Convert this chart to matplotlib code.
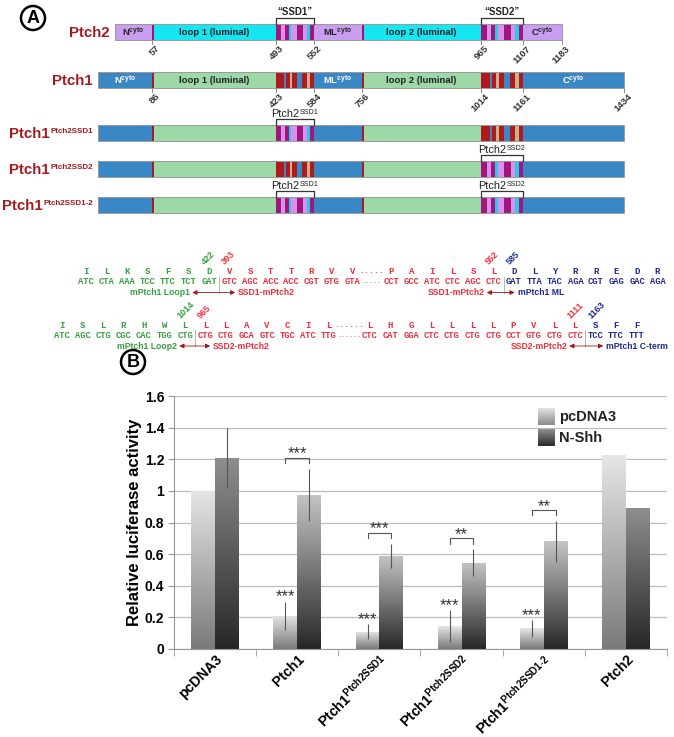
"""Ptch1/Ptch2 chimera schematic (A) and Gli-luciferase reporter activity (B)."""

import numpy as np
import matplotlib
matplotlib.use("Agg")
import matplotlib.pyplot as plt
import matplotlib.transforms as mtransforms
from matplotlib.patches import Rectangle, Circle
from matplotlib.colors import LinearSegmentedColormap

plt.rcParams["font.family"] = ["Liberation Sans", "DejaVu Sans"]
plt.rcParams["mathtext.fontset"] = "custom"
plt.rcParams["mathtext.rm"] = "Liberation Sans"
plt.rcParams["mathtext.it"] = "Liberation Sans:italic"
plt.rcParams["mathtext.bf"] = "Liberation Sans:bold"

# ---------------- panel B data ----------------
GROUPS = ["pcDNA3", "Ptch1",
          r"Ptch1$^{\mathbf{Ptch2SSD1}}$",
          r"Ptch1$^{\mathbf{Ptch2SSD2}}$",
          r"Ptch1$^{\mathbf{Ptch2SSD1}\text{-}\mathbf{2}}$",
          "Ptch2"]
SERIES = ["pcDNA3", "N-Shh"]
PCDNA3 = [1.00, 0.21, 0.11, 0.145, 0.13, 1.225]
PCDNA3_ERR = [0.0, 0.09, 0.045, 0.10, 0.055, 0.0]
NSHH = [1.21, 0.975, 0.59, 0.545, 0.68, 0.89]
NSHH_ERR = [0.19, 0.165, 0.075, 0.085, 0.13, 0.0]
STARS_VS_CTRL = ["", "***", "***", "***", "***", ""]
STARS_PAIR = ["", "***", "***", "**", "**", ""]
Y_TICKS = [0, 0.2, 0.4, 0.6, 0.8, 1.0, 1.2, 1.4, 1.6]

# ---------------- panel A data ----------------
CONSTRUCT_MAIN = ["Ptch2", "Ptch1", "Ptch1", "Ptch1", "Ptch1"]
CONSTRUCT_SUP = ["", "", "Ptch2SSD1", "Ptch2SSD2", "Ptch2SSD1-2"]
SSD_ORIGIN = [("p2", "p2"), ("p1", "p1"), ("p2", "p1"), ("p1", "p2"), ("p2", "p2")]
DOMAIN_NAMES = [r"N$^{\mathbf{cyto}}$", "loop 1 (luminal)", r"ML$^{\mathbf{cyto}}$",
                "loop 2 (luminal)", r"C$^{\mathbf{cyto}}$"]
PTCH2_RESIDUES = ["57", "493", "552", "965", "1107", "1183"]
PTCH1_RESIDUES = ["86", "423", "584", "756", "1014", "1161", "1434"]
SSD_TAGS = ["\u201cSSD1\u201d", "\u201cSSD2\u201d"]
SWAP_MAIN = "Ptch2"
SWAP_SUP = ["SSD1", "SSD2"]

# sequence junctions
SEQ1_AA_A = "I L K S F S D V S T T R V V".split()
SEQ1_NT_A = "ATC CTA AAA TCC TTC TCT GAT GTC AGC ACC ACC CGT GTG GTA".split()
SEQ1_COL_A = "gggggggrrrrrrr"
SEQ1_AA_B = "P A I L S L D L Y R R E D R".split()
SEQ1_NT_B = "CCT GCC ATC CTC AGC CTC GAT TTA TAC AGA CGT GAG GAC AGA".split()
SEQ1_COL_B = "rrrrrrbbbbbbbb"
SEQ2_AA_A = "I S L R H W L L L A V C I L".split()
SEQ2_NT_A = "ATC AGC CTG CGC CAC TGG CTG CTG CTG GCA GTC TGC ATC TTG".split()
SEQ2_COL_A = "gggggggrrrrrrr"
SEQ2_AA_B = "L H G L L L L P V L L S F F".split()
SEQ2_NT_B = "CTC CAT GGA CTC CTG CTG CTG CCT GTG CTG CTC TCC TTC TTT".split()
SEQ2_COL_B = "rrrrrrrrrrrbbb"
# (line, segment, first codon of new part, left no., right no., colours, left label, right label)
JUNCTIONS = [
    (0, 0, 7, "422", "393", "g", "r", "mPtch1 Loop1", "SSD1-mPtch2"),
    (0, 1, 6, "552", "585", "r", "b", "SSD1-mPtch2", "mPtch1 ML"),
    (1, 0, 7, "1014", "965", "g", "r", "mPtch1 Loop2", "SSD2-mPtch2"),
    (1, 1, 11, "1111", "1163", "r", "b", "SSD2-mPtch2", "mPtch1 C-term"),
]

# ---------------- layout / style ----------------
W_PX, H_PX = 674, 737
DARK_RED = "#a3191c"
SEQ_COL = {"g": "#35a040", "r": "#ec2f3b", "b": "#1f2a8c"}
PALETTE = {
    "p1": {"cyto": "#3a87c6", "loop": "#9cd9a6", "sep": "#a81c20"},
    "p2": {"cyto": "#c99ef0", "loop": "#14e6f2", "sep": "#9c1678"},
}
STRIPE_COLORS = {
    "p1": {"a": "#b01a1f", "b": "#3a87c6", "c": "#c9b287"},
    "p2": {"a": "#a0167a", "b": "#dc90ee", "c": "#22cde6"},
}
STRIPES = {
    "p1": [("a", 8), ("b", 2), ("a", 4), ("c", 2), ("a", 5), ("b", 5), ("a", 5), ("c", 3), ("a", 4)],
    "p2": [("a", 5), ("b", 4), ("a", 4), ("c", 2), ("b", 6), ("a", 6), ("b", 4), ("c", 3), ("a", 4)],
}
ROW_Y = [24, 72, 125, 161, 197]
ROW_H = 16
ROW_X0 = [115, 98, 98, 98, 98]
ROW_X1 = [562, 624, 624, 624, 624]
BOUND_X = [152, 276, 314, 362, 481, 523]
CODON_W = 20.5
SEQ_Y = [(271, 281.5, 292.5), (325, 335, 346)]
SEG_X0 = [(86, 391), (62, 370)]
ARROW_LEFT = [27, 17, 16, 16]
ARROW_RIGHT = [16, 11, 15, 18]

fig = plt.figure(figsize=(W_PX / 100, H_PX / 100), dpi=100)
canvas = fig.add_axes([0, 0, 1, 1])
canvas.set_xlim(0, W_PX)
canvas.set_ylim(H_PX, 0)
canvas.axis("off")
RENDERER = fig.canvas.get_renderer()


def sup_text(x, y, main, sup, size, sup_size, ha="right", rise=5, **kw):
    """Main text with a small raised suffix; y is the baseline (canvas pixels)."""
    t_main = canvas.text(0, y, main, ha="left", va="baseline", fontsize=size, **kw)
    t_sup = canvas.text(0, y - rise, sup, ha="left", va="baseline", fontsize=sup_size, **kw)
    w_main = t_main.get_window_extent(RENDERER).width
    w_sup = t_sup.get_window_extent(RENDERER).width if sup else 0
    total = w_main + w_sup + 0.5
    left = x - total if ha == "right" else x - total / 2
    t_main.set_x(left)
    t_sup.set_x(left + w_main + 0.5)


def circled(x, y, letter):
    canvas.add_patch(Circle((x, y), 12, fill=False, lw=1.8, color="black"))
    canvas.text(x, y + 0.5, letter, ha="center", va="center", fontsize=13, fontweight="bold")


def draw_stripes(x0, x1, y, origin):
    pattern = STRIPES[origin]
    widths = np.array([p[1] for p in pattern], float)
    edges = x0 + np.concatenate([[0], np.cumsum(widths)]) * (x1 - x0) / widths.sum()
    for (key, _), a, b in zip(pattern, edges[:-1], edges[1:]):
        canvas.add_patch(Rectangle((a, y), b - a, ROW_H, facecolor=STRIPE_COLORS[origin][key],
                                   edgecolor="none", zorder=2))


def bracket(x0, x1, y_top, y_bot):
    canvas.plot([x0, x0, x1, x1], [y_bot, y_top, y_top, y_bot], color="#333333", lw=0.9, zorder=4)


def draw_protein(row):
    y, x0, x1 = ROW_Y[row], ROW_X0[row], ROW_X1[row]
    pal = PALETTE["p2" if row == 0 else "p1"]
    edges = [x0] + BOUND_X + [x1]
    kinds = ["cyto", "loop", "ssd1", "cyto", "loop", "ssd2", "cyto"]
    for k, a, b in zip(kinds, edges[:-1], edges[1:]):
        if k.startswith("ssd"):
            draw_stripes(a, b, y, SSD_ORIGIN[row][0 if k == "ssd1" else 1])
        else:
            canvas.add_patch(Rectangle((a, y), b - a, ROW_H, facecolor=pal[k],
                                       edgecolor="none", zorder=1))
    for bx in (BOUND_X[0], BOUND_X[3]):
        canvas.add_patch(Rectangle((bx - 0.5, y), 2, ROW_H, facecolor=pal["sep"],
                                   edgecolor="none", zorder=2))
    canvas.add_patch(Rectangle((x0, y), x1 - x0, ROW_H, facecolor="none",
                               edgecolor="#9a9a9a", lw=0.7, zorder=3))
    sup_text(x0 - 5, y + ROW_H / 2 + 5, CONSTRUCT_MAIN[row], CONSTRUCT_SUP[row], 10.8, 5.8,
             rise=5, fontweight="bold", color=DARK_RED)

    if row < 2:
        centers = [(edges[0] + edges[1]) / 2, (edges[1] + edges[2]) / 2, (edges[3] + edges[4]) / 2,
                   (edges[4] + edges[5]) / 2, (edges[6] + edges[7]) / 2]
        for i, (cx, name) in enumerate(zip(centers, DOMAIN_NAMES)):
            col = "white" if (row == 1 and i in (0, 2, 4)) else "#222222"
            canvas.text(cx, y + ROW_H / 2 + 0.5, name, ha="center", va="center",
                        fontsize=6.8, fontweight="bold", color=col, zorder=4)
        if row == 0:
            tick_x = [BOUND_X[0], BOUND_X[1], BOUND_X[2], BOUND_X[4], BOUND_X[5], x1]
            labels = PTCH2_RESIDUES
        else:
            tick_x = BOUND_X + [x1]
            labels = PTCH1_RESIDUES
        for tx, lab in zip(tick_x, labels):
            canvas.plot([tx, tx], [y + ROW_H, y + ROW_H + 4], color="#888888", lw=0.7)
            canvas.text(tx + 3, y + ROW_H + 4, lab, rotation=45, rotation_mode="anchor",
                        ha="right", va="top", fontsize=6.8, fontweight="bold", color="#333333")


circled(33, 18, "A")
for r in range(len(CONSTRUCT_MAIN)):
    draw_protein(r)

# brackets over SSDs
for s, (bx0, bx1) in enumerate([(BOUND_X[1], BOUND_X[2]), (BOUND_X[4], BOUND_X[5])]):
    bracket(bx0, bx1, ROW_Y[0] - 6, ROW_Y[0])
    canvas.text((bx0 + bx1) / 2, ROW_Y[0] - 7.5, SSD_TAGS[s], ha="center", va="bottom",
                fontsize=7, fontweight="bold", color="#222222")
    for r in range(2, 5):
        if SSD_ORIGIN[r][s] == "p2":
            bracket(bx0, bx1, ROW_Y[r] - 6, ROW_Y[r])
            sup_text((bx0 + bx1) / 2, ROW_Y[r] - 8, SWAP_MAIN, SWAP_SUP[s], 7.8, 5.2,
                     ha="center", rise=3.5, color="#222222")

# ---------------- sequence junctions ----------------
SEQ_LINES = [
    [(SEQ1_AA_A, SEQ1_NT_A, SEQ1_COL_A), (SEQ1_AA_B, SEQ1_NT_B, SEQ1_COL_B)],
    [(SEQ2_AA_A, SEQ2_NT_A, SEQ2_COL_A), (SEQ2_AA_B, SEQ2_NT_B, SEQ2_COL_B)],
]
mono = dict(family="Liberation Mono", fontweight="bold", ha="center", va="center")
for li, segs in enumerate(SEQ_LINES):
    y_aa, y_nt, _ = SEQ_Y[li]
    for si, (aas, nts, cols) in enumerate(segs):
        x0 = SEG_X0[li][si]
        for i, (a, n, c) in enumerate(zip(aas, nts, cols)):
            canvas.text(x0 + i * CODON_W, y_aa, a, fontsize=6.5, color=SEQ_COL[c], **mono)
            canvas.text(x0 + i * CODON_W, y_nt, n, fontsize=6.3, color=SEQ_COL[c], **mono)
    gap_x = (SEG_X0[li][0] + 13 * CODON_W + SEG_X0[li][1]) / 2
    dots = "....." if li == 0 else "......"
    canvas.text(gap_x, y_aa, dots, fontsize=6.0, color=SEQ_COL["r"], **mono)
    canvas.text(gap_x, y_nt, dots, fontsize=4.8, color=SEQ_COL["r"], **mono)

for j, (li, si, k, n_left, n_right, c_left, c_right, lab_l, lab_r) in enumerate(JUNCTIONS):
    y_aa, y_nt, y_lab = SEQ_Y[li]
    x0 = SEG_X0[li][si]
    x_l, x_r = x0 + (k - 1) * CODON_W, x0 + k * CODON_W
    sep = (x_l + x_r) / 2
    for xx, num, col in ((x_l, n_left, c_left), (x_r, n_right, c_right)):
        canvas.text(xx - 3, y_aa - 5, num, rotation=45, rotation_mode="anchor", ha="left",
                    va="bottom", fontsize=6.5, fontweight="bold", color=SEQ_COL[col])
    canvas.plot([sep, sep], [y_nt - 5, y_lab], color="#aaaaaa", lw=0.6)
    head_l, head_r = sep - ARROW_LEFT[j], sep + ARROW_RIGHT[j]
    for hx in (head_l, head_r):
        canvas.annotate("", xy=(hx, y_lab), xytext=(sep, y_lab),
                        arrowprops=dict(arrowstyle="-|>", color="#a01818", lw=0.6,
                                        mutation_scale=7, shrinkA=0, shrinkB=0))
    canvas.text(head_l - 2, y_lab, lab_l, ha="right", va="center", fontsize=6.2,
                fontweight="bold", color=SEQ_COL[c_left])
    canvas.text(head_r + 3, y_lab, lab_r, ha="left", va="center", fontsize=6.2,
                fontweight="bold", color=SEQ_COL[c_right])

# ---------------- panel B ----------------
circled(133, 362, "B")


def gradient_fill(ax, rect, top, bottom):
    x0, y0 = rect.get_x(), rect.get_y()
    x1, y1 = x0 + rect.get_width(), y0 + rect.get_height()
    cmap = LinearSegmentedColormap.from_list("g", [bottom, top])
    im = ax.imshow(np.linspace(0, 1, 128).reshape(-1, 1), cmap=cmap, origin="lower",
                   extent=(x0, x1, y0, y1), aspect="auto", zorder=rect.get_zorder(),
                   interpolation="bilinear")
    im.set_clip_path(rect)


ax = fig.add_axes([174 / W_PX, 1 - 649 / H_PX, (667 - 174) / W_PX, (649 - 396) / H_PX])
ax.patch.set_alpha(0)
x = np.arange(len(GROUPS))
width = 0.29
bars_p = ax.bar(x - width / 2, PCDNA3, width, color="none", zorder=2)
bars_n = ax.bar(x + width / 2, NSHH, width, color="none", zorder=2)
for rect in bars_p:
    gradient_fill(ax, rect, "#e6e6e6", "#7a7a7a")
for i, rect in enumerate(bars_n):
    top = "#8e8e8e" if i in (0, len(GROUPS) - 1) else "#c4c4c4"
    gradient_fill(ax, rect, top, "#272727")

ax.errorbar(x - width / 2, PCDNA3, yerr=PCDNA3_ERR, fmt="none", ecolor="#555555",
            elinewidth=0.8, capsize=0, zorder=3)
ax.errorbar(x + width / 2, NSHH, yerr=NSHH_ERR, fmt="none", ecolor="#555555",
            elinewidth=0.8, capsize=0, zorder=3)

for i in range(len(GROUPS)):
    if STARS_VS_CTRL[i]:
        ax.text(x[i] - width / 2, PCDNA3[i] + PCDNA3_ERR[i], STARS_VS_CTRL[i],
                ha="center", va="baseline", fontsize=12, color="#333333", zorder=4)
    if STARS_PAIR[i]:
        yb = NSHH[i] + NSHH_ERR[i] + 0.07
        ax.plot([x[i] - width / 2, x[i] - width / 2, x[i] + width / 2, x[i] + width / 2],
                [yb - 0.035, yb, yb, yb - 0.035], color="#555555", lw=0.8, zorder=4)
        ax.text(x[i], yb - 0.005, STARS_PAIR[i], ha="center", va="baseline",
                fontsize=12, color="#333333", zorder=4)

ax.set_xlim(-0.5, len(GROUPS) - 0.5)
ax.set_ylim(0, 1.6)
ax.set_yticks(Y_TICKS)
ax.set_yticklabels([f"{v:g}" for v in Y_TICKS], fontsize=10, fontweight="bold")
ax.set_xticks(x)
ax.set_xticklabels(GROUPS, rotation=45, ha="right", rotation_mode="anchor",
                   fontsize=10.2, fontweight="bold")
shift = mtransforms.ScaledTranslation(11 / 100, 0, fig.dpi_scale_trans)
for lab in ax.get_xticklabels():
    lab.set_transform(lab.get_transform() + shift)
ax.set_xticks(np.arange(-0.5, len(GROUPS)), minor=True)
ax.tick_params(axis="x", which="major", length=0, pad=2.5)
ax.tick_params(axis="x", which="minor", length=5, color="#999999")
ax.tick_params(axis="y", length=4, color="#999999", pad=3)
ax.grid(axis="y", color="#bdbdbd", lw=0.9)
ax.set_axisbelow(True)
for side in ("top", "right"):
    ax.spines[side].set_visible(False)
for side in ("left", "bottom"):
    ax.spines[side].set_color("#999999")
ax.set_ylabel("Relative luciferase activity", fontsize=12, fontweight="bold")
ax.yaxis.set_label_coords(-0.064, 0.5)

# legend with gradient swatches
for k, (name, top, bottom) in enumerate(zip(SERIES, ["#e4e4e4", "#8e8e8e"], ["#8a8a8a", "#2a2a2a"])):
    y0 = 408 + k * 21
    cmap = LinearSegmentedColormap.from_list("s", [bottom, top])
    canvas.imshow(np.linspace(0, 1, 64).reshape(-1, 1), cmap=cmap, origin="lower",
                  extent=(538, 555, y0 + 17, y0), aspect="auto", zorder=5)
    canvas.text(559, y0 + 8.5, name, ha="left", va="center", fontsize=10.5, fontweight="bold",
                color="#222222", zorder=5)
canvas.set_xlim(0, W_PX)
canvas.set_ylim(H_PX, 0)

plt.savefig("out.png", dpi=100)
plt.close()
